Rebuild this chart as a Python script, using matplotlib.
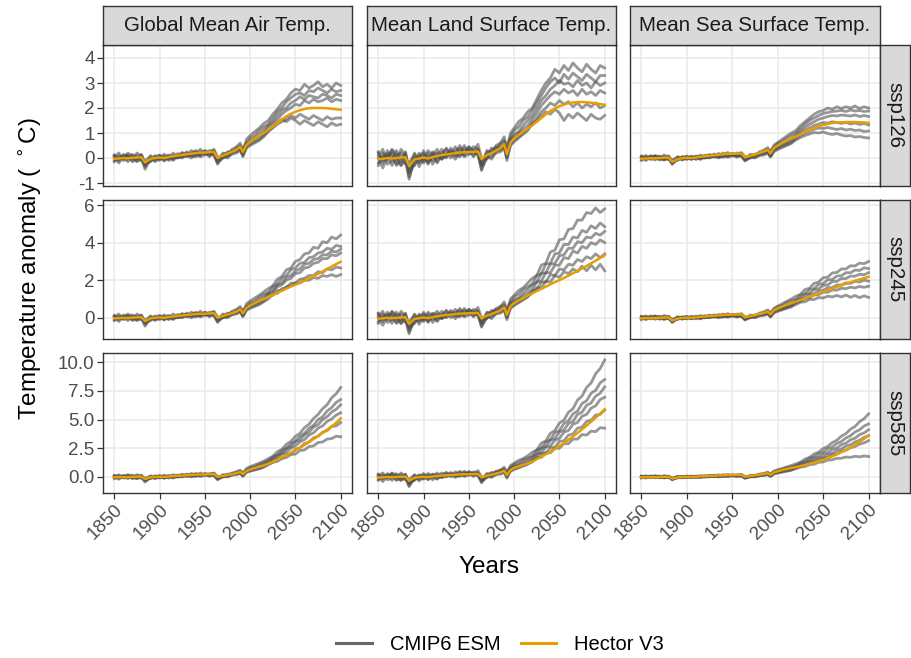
import matplotlib
matplotlib.use("Agg")
import matplotlib.pyplot as plt
from matplotlib.lines import Line2D

plt.rcParams["font.family"] = ["Liberation Sans", "DejaVu Sans"]
plt.rcParams["axes.unicode_minus"] = False

# --------------------------------------------------------------------------- #
# data (anomalies, deg C)
VARIABLES = ["Global Mean Air Temp.", "Mean Land Surface Temp.", "Mean Sea Surface Temp."]
SCENARIOS = ["ssp126", "ssp245", "ssp585"]

YEARS_HIST = [1850, 1855, 1860, 1865, 1870, 1875, 1880, 1884, 1890, 1895, 1900, 1905,
              1910, 1915, 1920, 1925, 1930, 1935, 1940, 1945, 1950, 1955, 1960, 1964,
              1970, 1975, 1980, 1985, 1989, 1992, 1996, 2000, 2005, 2010, 2015]
YEARS_FUT = [2020, 2025, 2030, 2035, 2040, 2045, 2050, 2055, 2060, 2065, 2070, 2075,
             2080, 2085, 2090, 2095, 2100]

# Hector V3
HECTOR_HIST_AIR = [-0.03, -0.02, 0.0, -0.01, 0.01, 0.02, 0.03, -0.18, -0.03, 0.0, 0.02, 0.0,
                   0.04, 0.07, 0.1, 0.12, 0.15, 0.17, 0.2, 0.21, 0.22, 0.23, 0.24, 0.0,
                   0.1, 0.17, 0.25, 0.33, 0.45, 0.24, 0.52, 0.66, 0.78, 0.9, 1.0]
HECTOR_HIST_LAND = [-0.05, -0.03, 0.0, -0.02, 0.0, 0.02, 0.03, -0.33, -0.06, -0.02, 0.02, -0.02,
                    0.04, 0.08, 0.12, 0.14, 0.17, 0.19, 0.22, 0.23, 0.24, 0.25, 0.26, -0.04,
                    0.12, 0.2, 0.3, 0.4, 0.55, 0.15, 0.62, 0.78, 0.92, 1.05, 1.18]
HECTOR_HIST_SEA = [-0.03, -0.02, -0.01, -0.01, 0.0, 0.01, 0.02, -0.15, -0.04, -0.01, 0.01, 0.0,
                   0.02, 0.05, 0.07, 0.09, 0.11, 0.13, 0.15, 0.16, 0.17, 0.17, 0.18, 0.02,
                   0.09, 0.14, 0.2, 0.26, 0.33, 0.18, 0.4, 0.5, 0.6, 0.7, 0.78]

HECTOR_AIR_126 = [1.13, 1.27, 1.4, 1.54, 1.67, 1.77, 1.85, 1.91, 1.96, 1.99, 2.0, 2.0, 2.0, 1.99, 1.97, 1.95, 1.93]
HECTOR_AIR_245 = [1.12, 1.22, 1.33, 1.44, 1.55, 1.66, 1.76, 1.87, 1.98, 2.1, 2.22, 2.34, 2.46, 2.6, 2.73, 2.86, 2.98]
HECTOR_AIR_585 = [1.16, 1.32, 1.5, 1.7, 1.9, 2.1, 2.32, 2.55, 2.79, 3.04, 3.3, 3.57, 3.84, 4.12, 4.41, 4.72, 5.1]
HECTOR_LAND_126 = [1.3, 1.45, 1.6, 1.75, 1.88, 1.98, 2.07, 2.14, 2.19, 2.22, 2.24, 2.24, 2.23, 2.21, 2.19, 2.16, 2.13]
HECTOR_LAND_245 = [1.3, 1.42, 1.54, 1.66, 1.78, 1.9, 2.0, 2.12, 2.24, 2.37, 2.5, 2.63, 2.76, 2.9, 3.04, 3.18, 3.32]
HECTOR_LAND_585 = [1.35, 1.55, 1.76, 1.98, 2.2, 2.45, 2.7, 2.96, 3.24, 3.53, 3.84, 4.15, 4.48, 4.82, 5.17, 5.52, 5.9]
HECTOR_SEA_126 = [0.86, 0.95, 1.04, 1.12, 1.2, 1.27, 1.32, 1.36, 1.4, 1.42, 1.43, 1.44, 1.44, 1.44, 1.43, 1.42, 1.41]
HECTOR_SEA_245 = [0.86, 0.95, 1.04, 1.13, 1.22, 1.31, 1.39, 1.47, 1.56, 1.64, 1.73, 1.81, 1.89, 1.97, 2.04, 2.11, 2.18]
HECTOR_SEA_585 = [0.86, 0.95, 1.05, 1.15, 1.26, 1.37, 1.5, 1.64, 1.8, 1.97, 2.15, 2.35, 2.56, 2.8, 3.05, 3.33, 3.62]

# CMIP6 ESM members (historical, shared by the three scenarios)
ESM_HIST_AIR = [
    [0.1, -0.12, 0.15, 0.05, -0.1, 0.2, 0.08, -0.3, 0.1, -0.05, 0.12, -0.1, 0.0, 0.2, 0.05, 0.22, 0.1, 0.3,
     0.18, 0.35, 0.15, 0.3, 0.28, -0.15, 0.2, 0.1, 0.35, 0.45, 0.6, 0.3, 0.75, 0.9, 1.05, 1.2, 1.38],
    [-0.15, 0.1, -0.05, 0.12, 0.0, -0.12, 0.15, -0.25, -0.12, 0.1, -0.05, 0.08, -0.1, 0.0, 0.18, 0.05, 0.25, 0.1,
     0.3, 0.12, 0.28, 0.18, 0.35, 0.05, 0.0, 0.25, 0.2, 0.4, 0.5, 0.35, 0.6, 0.8, 0.9, 1.1, 1.25],
    [0.05, 0.2, -0.1, -0.05, 0.15, 0.0, -0.1, -0.1, 0.05, -0.15, 0.0, 0.15, 0.05, -0.05, 0.1, 0.2, 0.05, 0.2,
     0.25, 0.1, 0.3, 0.2, 0.15, -0.05, 0.15, 0.2, 0.3, 0.25, 0.4, 0.2, 0.5, 0.7, 0.8, 0.95, 1.12],
    [-0.1, 0.0, 0.1, -0.15, 0.05, 0.1, 0.0, -0.35, -0.05, 0.05, 0.1, -0.05, 0.12, 0.05, 0.0, 0.1, 0.2, 0.12,
     0.1, 0.25, 0.2, 0.1, 0.25, -0.1, 0.05, 0.15, 0.25, 0.35, 0.45, 0.15, 0.55, 0.65, 0.75, 0.85, 1.0],
    [0.0, -0.2, 0.05, 0.1, -0.15, -0.05, 0.1, -0.2, -0.15, 0.0, -0.1, 0.05, -0.05, 0.1, 0.0, 0.05, 0.1, 0.0,
     0.15, 0.05, 0.12, 0.2, 0.1, -0.2, 0.0, 0.05, 0.15, 0.2, 0.3, 0.1, 0.4, 0.5, 0.6, 0.7, 0.85],
    [0.12, -0.05, 0.0, 0.2, 0.08, -0.15, -0.05, -0.45, 0.0, -0.1, 0.05, -0.12, 0.1, -0.1, 0.08, 0.0, 0.12, 0.08,
     0.05, 0.15, 0.25, 0.05, 0.2, -0.25, 0.1, 0.0, 0.2, 0.3, 0.35, 0.05, 0.45, 0.55, 0.65, 0.75, 0.9],
]
ESM_HIST_LAND = [
    [0.25, -0.2, 0.3, 0.05, -0.25, 0.35, 0.1, -0.5, 0.2, -0.15, 0.3, -0.2, 0.1, 0.35, 0.0, 0.4, 0.15, 0.45,
     0.2, 0.5, 0.15, 0.45, 0.35, -0.3, 0.3, 0.15, 0.5, 0.6, 0.85, 0.35, 1.0, 1.2, 1.45, 1.6, 1.85],
    [-0.3, 0.2, -0.1, 0.3, 0.0, -0.3, 0.25, -0.6, -0.25, 0.2, -0.15, 0.2, -0.25, 0.05, 0.35, 0.05, 0.4, 0.1,
     0.5, 0.15, 0.45, 0.25, 0.55, 0.0, -0.05, 0.4, 0.3, 0.6, 0.7, 0.45, 0.85, 1.1, 1.25, 1.5, 1.65],
    [0.1, 0.35, -0.25, -0.1, 0.3, 0.0, -0.25, -0.2, 0.15, -0.35, 0.0, 0.3, 0.1, -0.15, 0.2, 0.35, 0.0, 0.3,
     0.4, 0.1, 0.45, 0.3, 0.15, -0.2, 0.25, 0.3, 0.45, 0.3, 0.55, 0.2, 0.7, 0.95, 1.05, 1.3, 1.5],
    [-0.2, 0.05, 0.2, -0.3, 0.1, 0.2, -0.05, -0.75, -0.1, 0.1, 0.2, -0.15, 0.25, 0.1, -0.05, 0.15, 0.3, 0.2,
     0.1, 0.4, 0.3, 0.1, 0.35, -0.3, 0.1, 0.25, 0.35, 0.5, 0.6, 0.05, 0.75, 0.85, 1.0, 1.15, 1.3],
    [0.0, -0.4, 0.1, 0.2, -0.3, -0.1, 0.2, -0.4, -0.3, 0.05, -0.2, 0.1, -0.1, 0.2, -0.05, 0.1, 0.2, -0.05,
     0.25, 0.05, 0.15, 0.3, 0.1, -0.45, 0.0, 0.05, 0.2, 0.25, 0.4, 0.0, 0.5, 0.65, 0.8, 0.95, 1.1],
    [0.2, -0.1, 0.0, 0.35, 0.15, -0.3, -0.1, -0.85, 0.0, -0.2, 0.1, -0.25, 0.2, -0.2, 0.15, 0.0, 0.2, 0.1,
     0.05, 0.25, 0.35, 0.05, 0.3, -0.5, 0.15, -0.05, 0.25, 0.4, 0.45, -0.1, 0.55, 0.7, 0.85, 1.0, 1.15],
]
ESM_HIST_SEA = [
    [0.08, -0.06, 0.1, 0.02, -0.05, 0.12, 0.04, -0.18, 0.06, -0.04, 0.08, -0.05, 0.02, 0.12, 0.04, 0.14, 0.08, 0.18,
     0.12, 0.22, 0.1, 0.2, 0.18, -0.05, 0.15, 0.1, 0.25, 0.32, 0.42, 0.25, 0.52, 0.62, 0.75, 0.88, 1.0],
    [-0.1, 0.06, -0.03, 0.08, 0.0, -0.08, 0.08, -0.16, -0.08, 0.06, -0.03, 0.05, -0.06, 0.02, 0.12, 0.04, 0.16, 0.06,
     0.2, 0.08, 0.18, 0.12, 0.22, 0.05, 0.02, 0.16, 0.15, 0.28, 0.35, 0.25, 0.45, 0.58, 0.66, 0.8, 0.9],
    [0.03, 0.1, -0.06, -0.03, 0.08, 0.0, -0.06, -0.08, 0.03, -0.08, 0.0, 0.08, 0.03, -0.03, 0.06, 0.12, 0.03, 0.12,
     0.15, 0.06, 0.18, 0.12, 0.1, -0.02, 0.1, 0.12, 0.2, 0.18, 0.28, 0.15, 0.35, 0.48, 0.56, 0.66, 0.76],
    [-0.06, 0.0, 0.06, -0.08, 0.03, 0.06, 0.0, -0.22, -0.03, 0.03, 0.06, -0.03, 0.08, 0.03, 0.0, 0.06, 0.12, 0.08,
     0.06, 0.15, 0.12, 0.06, 0.15, -0.06, 0.04, 0.1, 0.16, 0.22, 0.3, 0.1, 0.36, 0.44, 0.52, 0.6, 0.7],
    [0.0, -0.1, 0.03, 0.06, -0.08, -0.03, 0.06, -0.12, -0.08, 0.0, -0.06, 0.03, -0.03, 0.06, 0.0, 0.03, 0.06, 0.0,
     0.1, 0.03, 0.08, 0.12, 0.06, -0.1, 0.0, 0.03, 0.1, 0.12, 0.2, 0.06, 0.26, 0.34, 0.42, 0.5, 0.58],
    [0.06, -0.03, 0.0, 0.1, 0.05, -0.08, -0.03, -0.26, 0.0, -0.06, 0.03, -0.06, 0.06, -0.06, 0.05, 0.0, 0.08, 0.05,
     0.03, 0.1, 0.14, 0.03, 0.12, -0.12, 0.06, 0.0, 0.12, 0.18, 0.22, 0.04, 0.3, 0.38, 0.46, 0.54, 0.62],
]

# CMIP6 ESM members (2020-2100, per scenario)
ESM_AIR_126 = [
    [1.5, 1.75, 1.95, 2.2, 2.35, 2.6, 2.75, 2.7, 2.95, 2.8, 2.9, 3.05, 2.85, 2.95, 2.8, 3.0, 2.9],
    [1.35, 1.6, 1.85, 2.0, 2.25, 2.4, 2.55, 2.6, 2.5, 2.7, 2.65, 2.8, 2.7, 2.6, 2.75, 2.65, 2.7],
    [1.3, 1.45, 1.7, 1.9, 2.0, 2.2, 2.3, 2.45, 2.35, 2.5, 2.45, 2.4, 2.55, 2.5, 2.4, 2.55, 2.5],
    [1.2, 1.35, 1.55, 1.75, 1.9, 2.0, 2.15, 2.1, 2.3, 2.2, 2.35, 2.25, 2.3, 2.4, 2.25, 2.35, 2.3],
    [1.05, 1.2, 1.35, 1.45, 1.55, 1.7, 1.6, 1.75, 1.65, 1.55, 1.7, 1.6, 1.5, 1.65, 1.55, 1.6, 1.6],
    [1.1, 1.25, 1.4, 1.55, 1.45, 1.6, 1.5, 1.35, 1.5, 1.4, 1.3, 1.45, 1.35, 1.25, 1.4, 1.3, 1.35],
]
ESM_AIR_245 = [
    [1.55, 1.7, 2.05, 2.2, 2.55, 2.65, 3.0, 3.1, 3.4, 3.45, 3.75, 3.7, 4.05, 4.0, 4.3, 4.2, 4.4],
    [1.35, 1.65, 1.8, 2.1, 2.25, 2.55, 2.65, 2.9, 2.95, 3.2, 3.25, 3.45, 3.5, 3.7, 3.65, 3.85, 3.8],
    [1.3, 1.45, 1.75, 1.85, 2.15, 2.25, 2.5, 2.6, 2.85, 2.9, 3.1, 3.15, 3.35, 3.35, 3.55, 3.5, 3.65],
    [1.25, 1.35, 1.65, 1.75, 2.0, 2.1, 2.35, 2.4, 2.65, 2.7, 2.9, 2.95, 3.15, 3.15, 3.35, 3.3, 3.45],
    [1.0, 1.25, 1.3, 1.55, 1.6, 1.85, 1.85, 2.05, 2.1, 2.25, 2.25, 2.45, 2.4, 2.6, 2.55, 2.7, 2.65],
    [1.15, 1.2, 1.45, 1.45, 1.65, 1.7, 1.85, 1.85, 2.0, 2.0, 2.15, 2.1, 2.25, 2.2, 2.3, 2.2, 2.3],
]
ESM_AIR_585 = [
    [1.6, 1.8, 2.2, 2.4, 2.85, 3.1, 3.55, 3.8, 4.3, 4.6, 5.1, 5.45, 5.95, 6.3, 6.9, 7.25, 7.8],
    [1.4, 1.75, 1.9, 2.3, 2.5, 2.9, 3.15, 3.55, 3.8, 4.25, 4.5, 5.0, 5.25, 5.75, 6.05, 6.5, 6.75],
    [1.4, 1.55, 1.9, 2.05, 2.45, 2.65, 3.05, 3.25, 3.65, 3.9, 4.35, 4.55, 5.0, 5.25, 5.65, 5.9, 6.3],
    [1.2, 1.5, 1.65, 2.0, 2.15, 2.5, 2.7, 3.05, 3.25, 3.65, 3.85, 4.25, 4.45, 4.85, 5.05, 5.4, 5.6],
    [1.15, 1.25, 1.55, 1.65, 1.95, 2.05, 2.4, 2.55, 2.9, 3.05, 3.4, 3.55, 3.9, 4.05, 4.4, 4.45, 4.75],
    [1.05, 1.3, 1.35, 1.6, 1.7, 1.95, 2.0, 2.3, 2.35, 2.65, 2.7, 3.0, 3.05, 3.3, 3.35, 3.55, 3.5],
]
ESM_LAND_126 = [
    [2.0, 2.35, 2.7, 3.0, 3.2, 3.55, 3.4, 3.7, 3.5, 3.8, 3.6, 3.45, 3.75, 3.55, 3.4, 3.7, 3.6],
    [1.9, 2.2, 2.5, 2.8, 3.05, 3.2, 3.0, 3.35, 3.15, 3.4, 3.25, 3.1, 3.35, 3.2, 3.05, 3.3, 3.3],
    [1.7, 2.0, 2.3, 2.5, 2.75, 2.9, 3.1, 2.95, 3.0, 2.85, 3.1, 2.9, 3.0, 2.8, 3.05, 2.9, 3.0],
    [1.55, 1.8, 2.1, 2.3, 2.5, 2.65, 2.55, 2.75, 2.6, 2.7, 2.5, 2.75, 2.55, 2.65, 2.5, 2.7, 2.6],
    [1.4, 1.6, 1.85, 2.0, 2.2, 2.1, 2.3, 2.15, 2.25, 2.05, 2.2, 2.0, 2.15, 2.05, 2.2, 2.0, 2.1],
    [1.35, 1.5, 1.7, 1.85, 1.75, 1.95, 1.8, 1.5, 1.75, 1.6, 1.8, 1.65, 1.5, 1.75, 1.6, 1.55, 1.7],
]
ESM_LAND_245 = [
    [2.1, 2.25, 2.8, 2.9, 3.5, 3.6, 4.15, 4.2, 4.7, 4.75, 5.2, 5.2, 5.6, 5.55, 5.85, 5.6, 5.8],
    [1.8, 2.25, 2.35, 2.85, 2.9, 3.4, 3.45, 3.9, 3.9, 4.3, 4.25, 4.65, 4.55, 4.9, 4.75, 5.05, 4.85],
    [1.75, 1.9, 2.35, 2.4, 2.85, 2.9, 3.3, 3.35, 3.7, 3.7, 4.05, 4.0, 4.3, 4.25, 4.5, 4.4, 4.6],
    [1.5, 1.9, 1.95, 2.4, 2.4, 2.8, 2.8, 3.2, 3.15, 3.55, 3.45, 3.8, 3.7, 4.0, 3.9, 4.15, 4.0],
    [1.45, 1.5, 1.9, 1.9, 2.3, 2.25, 2.6, 2.55, 2.85, 2.8, 3.1, 3.0, 3.25, 3.15, 3.4, 3.2, 3.4],
    [1.3, 1.6, 1.6, 1.95, 1.9, 2.25, 2.15, 2.45, 2.35, 2.6, 2.45, 2.75, 2.5, 2.8, 2.55, 2.85, 2.5],
]
ESM_LAND_585 = [
    [2.15, 2.35, 2.95, 3.15, 3.8, 4.05, 4.7, 4.95, 5.65, 5.95, 6.7, 7.05, 7.8, 8.2, 9.0, 9.45, 10.2],
    [1.8, 2.35, 2.5, 3.05, 3.25, 3.85, 4.05, 4.65, 4.9, 5.5, 5.75, 6.4, 6.65, 7.3, 7.55, 8.2, 8.5],
    [1.8, 1.95, 2.5, 2.65, 3.2, 3.35, 3.9, 4.1, 4.65, 4.85, 5.45, 5.65, 6.25, 6.45, 7.05, 7.3, 7.85],
    [1.5, 2.0, 2.1, 2.6, 2.7, 3.2, 3.35, 3.9, 4.05, 4.6, 4.75, 5.3, 5.45, 6.0, 6.2, 6.75, 6.95],
    [1.5, 1.6, 2.05, 2.1, 2.55, 2.6, 3.1, 3.15, 3.65, 3.75, 4.25, 4.35, 4.85, 4.95, 5.4, 5.45, 5.85],
    [1.3, 1.7, 1.7, 2.1, 2.1, 2.5, 2.5, 2.9, 2.9, 3.3, 3.3, 3.7, 3.65, 4.0, 3.95, 4.3, 4.25],
]
ESM_SEA_126 = [
    [1.1, 1.3, 1.45, 1.6, 1.75, 1.85, 1.9, 2.0, 1.95, 2.05, 1.98, 2.05, 2.0, 2.08, 1.98, 2.05, 2.0],
    [1.0, 1.18, 1.35, 1.5, 1.6, 1.7, 1.78, 1.82, 1.86, 1.88, 1.9, 1.86, 1.92, 1.88, 1.9, 1.86, 1.88],
    [0.92, 1.08, 1.22, 1.35, 1.45, 1.55, 1.6, 1.66, 1.7, 1.68, 1.72, 1.7, 1.68, 1.72, 1.66, 1.7, 1.66],
    [0.85, 0.98, 1.1, 1.2, 1.3, 1.36, 1.42, 1.4, 1.45, 1.42, 1.38, 1.42, 1.36, 1.4, 1.34, 1.38, 1.32],
    [0.78, 0.9, 1.0, 1.08, 1.15, 1.2, 1.18, 1.22, 1.18, 1.14, 1.18, 1.12, 1.15, 1.1, 1.12, 1.06, 1.08],
    [0.72, 0.82, 0.9, 0.96, 1.02, 1.0, 1.04, 0.98, 0.94, 0.98, 0.92, 0.88, 0.9, 0.84, 0.86, 0.82, 0.8],
]
ESM_SEA_245 = [
    [1.15, 1.25, 1.5, 1.58, 1.83, 1.9, 2.13, 2.16, 2.39, 2.41, 2.6, 2.6, 2.77, 2.76, 2.91, 2.88, 3.0],
    [0.97, 1.2, 1.28, 1.5, 1.56, 1.78, 1.82, 2.02, 2.04, 2.22, 2.24, 2.4, 2.4, 2.54, 2.52, 2.66, 2.62],
    [0.95, 1.03, 1.24, 1.3, 1.49, 1.54, 1.72, 1.75, 1.92, 1.94, 2.09, 2.09, 2.22, 2.21, 2.32, 2.29, 2.4],
    [0.82, 1.0, 1.06, 1.24, 1.27, 1.44, 1.46, 1.61, 1.61, 1.75, 1.74, 1.86, 1.83, 1.94, 1.9, 2.0, 1.95],
    [0.8, 0.87, 1.03, 1.07, 1.21, 1.23, 1.36, 1.36, 1.48, 1.47, 1.57, 1.55, 1.63, 1.59, 1.67, 1.62, 1.68],
    [0.7, 0.83, 0.85, 0.98, 0.97, 1.08, 1.05, 1.15, 1.11, 1.19, 1.11, 1.21, 1.09, 1.19, 1.07, 1.17, 1.08],
]
ESM_SEA_585 = [
    [1.15, 1.29, 1.56, 1.71, 2.0, 2.16, 2.48, 2.66, 3.0, 3.2, 3.56, 3.78, 4.16, 4.4, 4.82, 5.08, 5.5],
    [0.99, 1.23, 1.35, 1.62, 1.75, 2.02, 2.17, 2.46, 2.62, 2.92, 3.09, 3.4, 3.59, 3.92, 4.11, 4.44, 4.62],
    [0.97, 1.07, 1.3, 1.4, 1.64, 1.74, 2.01, 2.12, 2.4, 2.52, 2.81, 2.94, 3.24, 3.38, 3.69, 3.84, 4.12],
    [0.83, 1.03, 1.11, 1.32, 1.41, 1.63, 1.73, 1.96, 2.07, 2.31, 2.43, 2.68, 2.81, 3.06, 3.2, 3.45, 3.6],
    [0.83, 0.89, 1.08, 1.15, 1.34, 1.42, 1.62, 1.71, 1.92, 2.01, 2.23, 2.33, 2.55, 2.65, 2.87, 2.97, 3.17],
    [0.71, 0.87, 0.91, 1.07, 1.11, 1.27, 1.31, 1.47, 1.5, 1.63, 1.63, 1.74, 1.71, 1.8, 1.75, 1.83, 1.78],
]

X_TICKS = [1850, 1900, 1950, 2000, 2050, 2100]
Y_TICKS = {"ssp126": [-1, 0, 1, 2, 3, 4], "ssp245": [0, 2, 4, 6],
           "ssp585": [0.0, 2.5, 5.0, 7.5, 10.0]}
Y_TICK_LABELS = {"ssp126": ["-1", "0", "1", "2", "3", "4"], "ssp245": ["0", "2", "4", "6"],
                 "ssp585": ["0.0", "2.5", "5.0", "7.5", "10.0"]}
Y_LIMS = {"ssp126": (-1.12, 4.52), "ssp245": (-1.13, 6.27), "ssp585": (-1.40, 10.81)}

HIST = [HECTOR_HIST_AIR, HECTOR_HIST_LAND, HECTOR_HIST_SEA]
ESM_HIST = [ESM_HIST_AIR, ESM_HIST_LAND, ESM_HIST_SEA]
HECTOR_FUT = {
    (0, "ssp126"): HECTOR_AIR_126, (0, "ssp245"): HECTOR_AIR_245, (0, "ssp585"): HECTOR_AIR_585,
    (1, "ssp126"): HECTOR_LAND_126, (1, "ssp245"): HECTOR_LAND_245, (1, "ssp585"): HECTOR_LAND_585,
    (2, "ssp126"): HECTOR_SEA_126, (2, "ssp245"): HECTOR_SEA_245, (2, "ssp585"): HECTOR_SEA_585,
}
ESM_FUT = {
    (0, "ssp126"): ESM_AIR_126, (0, "ssp245"): ESM_AIR_245, (0, "ssp585"): ESM_AIR_585,
    (1, "ssp126"): ESM_LAND_126, (1, "ssp245"): ESM_LAND_245, (1, "ssp585"): ESM_LAND_585,
    (2, "ssp126"): ESM_SEA_126, (2, "ssp245"): ESM_SEA_245, (2, "ssp585"): ESM_SEA_585,
}

ESM_COLOR = "#4d4d4d"
HECTOR_COLOR = "#E69F00"
STRIP_FILL = "#d9d9d9"
BORDER = "#333333"

# --------------------------------------------------------------------------- #
W, H = 912, 658
fig = plt.figure(figsize=(W / 100, H / 100), dpi=100)

col_left = [103, 367, 630]
col_w = [249, 249, 250]
row_top = [45, 200, 353]
row_h = [141, 139, 140]


def frac(x, y, w, h):
    return [x / W, 1 - (y + h) / H, w / W, h / H]


years_all = YEARS_HIST + YEARS_FUT
for r, scen in enumerate(SCENARIOS):
    for c, var in enumerate(VARIABLES):
        ax = fig.add_axes(frac(col_left[c], row_top[r], col_w[c], row_h[r]))
        for m, hist in enumerate(ESM_HIST[c]):
            ax.plot(years_all, hist + ESM_FUT[(c, scen)][m], color=ESM_COLOR,
                    alpha=0.58, lw=2.0, solid_joinstyle="round")
        ax.plot(years_all, HIST[c] + HECTOR_FUT[(c, scen)], color=HECTOR_COLOR, lw=1.8, zorder=5)

        ax.set_xlim(1837.5, 2112.5)
        ax.set_ylim(*Y_LIMS[scen])
        ax.set_xticks(X_TICKS)
        ax.set_yticks(Y_TICKS[scen])
        ax.grid(True, color="#ebebeb", lw=1.2)
        ax.set_axisbelow(True)
        for sp in ax.spines.values():
            sp.set_color(BORDER)
            sp.set_linewidth(1.0)
        ax.tick_params(color=BORDER, length=4, width=0.9, labelsize=13.5,
                       labelcolor="#4d4d4d", pad=2)
        if c == 0:
            ax.set_yticklabels(Y_TICK_LABELS[scen])
        else:
            ax.tick_params(axis="y", left=False, labelleft=False)
        if r == 2:
            ax.set_xticklabels([str(x) for x in X_TICKS], rotation=45, ha="right",
                               va="top", rotation_mode="anchor")
        else:
            ax.tick_params(axis="x", bottom=False, labelbottom=False)

        # column strips on top
        if r == 0:
            sax = fig.add_axes(frac(col_left[c], 6, col_w[c], 39))
            sax.set_facecolor(STRIP_FILL)
            sax.set_xticks([]); sax.set_yticks([])
            for sp in sax.spines.values():
                sp.set_color(BORDER); sp.set_linewidth(1.0)
            sax.text(0.5, 0.5, var, ha="center", va="center", fontsize=14.8,
                     color="#1a1a1a", transform=sax.transAxes)
        # scenario strips on the right
        if c == 2:
            sax = fig.add_axes(frac(880, row_top[r], 30, row_h[r]))
            sax.set_facecolor(STRIP_FILL)
            sax.set_xticks([]); sax.set_yticks([])
            for sp in sax.spines.values():
                sp.set_color(BORDER); sp.set_linewidth(1.0)
            sax.text(0.5, 0.5, scen, ha="center", va="center", fontsize=14.8,
                     rotation=-90, color="#1a1a1a", transform=sax.transAxes)

fig.text(489 / W, 1 - 567 / H, "Years", ha="center", va="center", fontsize=17.5)
fig.text(30 / W, 1 - 269 / H, "Temperature anomaly ( $^\\circ$C)", ha="center",
         va="center", rotation=90, fontsize=17.5)

handles = [Line2D([], [], color=ESM_COLOR, lw=2.2, alpha=0.85),
           Line2D([], [], color=HECTOR_COLOR, lw=2.2)]
fig.legend(handles, ["CMIP6 ESM", "Hector V3"], loc="center", ncol=2, frameon=False,
           bbox_to_anchor=(500 / W, 1 - 645 / H), fontsize=14.5, handlelength=1.75,
           columnspacing=1.0, handletextpad=0.9)

fig.savefig("out.png", dpi=100)
